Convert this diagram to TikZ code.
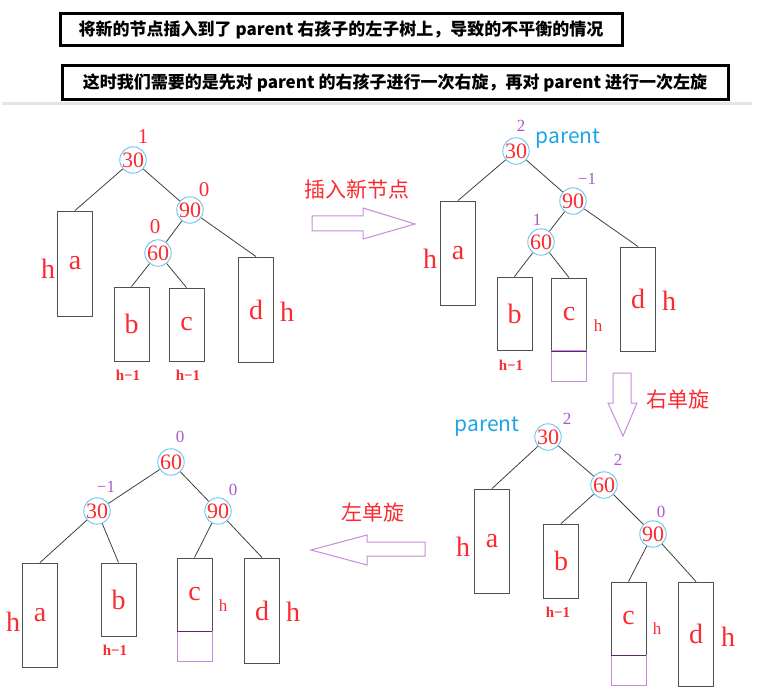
\documentclass[tikz,border=0pt]{standalone}
\usepackage{fontspec}
\setmainfont{Liberation Serif}
\newfontfamily\cjk{Noto Sans CJK SC}
\usepackage{tikz}
\usetikzlibrary{positioning}
\definecolor{avlred}{HTML}{FA2A30}
\definecolor{ringblue}{HTML}{66C6EE}
\definecolor{balpurple}{HTML}{A65BC8}
\definecolor{arrpurple}{HTML}{C88ADB}
\definecolor{parblue}{HTML}{1FA3E6}
\definecolor{boxgray}{HTML}{505050}
\definecolor{seampurple}{HTML}{5A2A6E}

\begin{document}
\begin{tikzpicture}[x=1pt, y=-1pt,
	circ/.style={circle, draw=ringblue, line width=0.9pt, minimum size=26pt, inner sep=0pt, text=avlred, font=\fontsize{22}{22}\selectfont},
	box/.style={draw=boxgray, line width=0.9pt, minimum width=35pt, inner sep=0pt, text=avlred, font=\fontsize{28}{28}\selectfont},
	ext/.style={draw=arrpurple, line width=1pt, minimum width=35pt, minimum height=30pt, inner sep=0pt},
	seam/.style={draw=seampurple, line width=1.4pt},
	edge/.style={draw=black!75, line width=0.8pt},
	bal/.style={text=balpurple, inner sep=0pt, font=\fontsize{17}{17}\selectfont},
	redbal/.style={text=avlred, inner sep=0pt, font=\fontsize{21}{21}\selectfont},
	hbig/.style={text=avlred, inner sep=0pt, font=\fontsize{28}{28}\selectfont},
	hsmall/.style={text=avlred, inner sep=0pt, font=\fontsize{17}{17}\selectfont},
	hmin/.style={text=avlred, inner sep=0pt, font=\fontsize{15}{15}\selectfont\bfseries},
	parlab/.style={text=parblue, inner sep=0pt, font=\cjk\fontsize{21}{21}\selectfont},
	steplab/.style={text=avlred, inner sep=0pt, font=\cjk\fontsize{21}{21}\selectfont},
	banner/.style={draw=black, line width=3pt, inner sep=0pt, font=\cjk\bfseries\fontsize{17}{17}\selectfont},
	arr/.style={draw=arrpurple, line width=1pt, line join=miter}]
	\useasboundingbox (0,0) rectangle (776,692);
	
	% Banners
	\node[banner, minimum width=562pt, minimum height=32pt] (note1) at (341,30) {将新的节点插入到了 parent 右孩子的左子树上，导致的不平衡的情况};
	\node[banner, minimum width=666pt, minimum height=34pt] (note2) at (395,83) {这时我们需要的是先对 parent 的右孩子进行一次右旋，再对 parent 进行一次左旋};
	\draw[black!10, line width=3pt] (2,104) -- (752,104);
	
	% Tree 1: before insertion
	\node[circ] (t1n30) at (133,160) {30};
	\node[circ] (t1n90) at (190,210) {90};
	\node[circ] (t1n60) at (158,253) {60};
	\node[box, minimum height=105pt] (t1a) at (75,263.5) {a};
	\node[box, minimum height=74pt] (t1b) at (131.5,324) {b};
	\node[box, minimum height=73pt] (t1c) at (186.5,324.5) {c};
	\node[box, minimum height=105pt] (t1d) at (256,309.5) {d};
	\draw[edge] (t1n30) -- (t1a.north);
	\draw[edge] (t1n30) -- (t1n90);
	\draw[edge] (t1n90) -- (t1n60);
	\draw[edge] (t1n90) -- (t1d.north);
	\draw[edge] (t1n60) -- (t1b.north);
	\draw[edge] (t1n60) -- (t1c.north);
	\node[redbal] (t1b30) at (143,137) {1};
	\node[redbal] (t1b90) at (204,190) {0};
	\node[redbal] (t1b60) at (155,227) {0};
	\node[hbig] (t1ha) at (48,269) {h};
	\node[hbig] (t1hd) at (287,312) {h};
	\node[hmin] (t1hb) at (128,375) {h−1};
	\node[hmin] (t1hc) at (188,375) {h−1};
	
	% Step 1: insert
	\node[steplab] (ins) at (357,189) {插入新节点};
	\draw[arr] (312,216) -- (363,216) -- (363,208) -- (415,224) -- (363,239) -- (363,231) -- (312,231) -- cycle;
	
	% Tree 2: after insertion
	\node[circ] (t2n30) at (516,151) {30};
	\node[circ] (t2n90) at (573,201) {90};
	\node[circ] (t2n60) at (541,242) {60};
	\node[box, minimum height=104pt] (t2a) at (458,253) {a};
	\node[box, minimum height=73pt] (t2b) at (514.5,313.5) {b};
	\node[box, minimum height=73pt] (t2c) at (569,314.5) {c};
	\node[box, minimum height=104pt] (t2d) at (638,299) {d};
	\node[ext] (t2e) at (569,366) {};
	\draw[seam] (t2c.south west) -- (t2c.south east);
	\draw[edge] (t2n30) -- (t2a.north);
	\draw[edge] (t2n30) -- (t2n90);
	\draw[edge] (t2n90) -- (t2n60);
	\draw[edge] (t2n90) -- (t2d.north);
	\draw[edge] (t2n60) -- (t2b.north);
	\draw[edge] (t2n60) -- (t2c.north);
	\node[bal] (t2b30) at (521,126) {2};
	\node[bal] (t2b90) at (587,179) {−1};
	\node[bal] (t2b60) at (537,220) {1};
	\node[parlab] (t2par) at (568,139) {parent};
	\node[hbig] (t2ha) at (430,259) {h};
	\node[hbig] (t2hd) at (669,301) {h};
	\node[hsmall] (t2hc) at (598,326) {h};
	\node[hmin] (t2hb) at (511,365) {h−1};
	
	% Step 2: right rotation
	\node[steplab] (rot1) at (678,400) {右单旋};
	\draw[arr] (613,373) -- (631,373) -- (631,403) -- (637,403) -- (623,436) -- (608,403) -- (613,403) -- cycle;
	
	% Tree 3: after right rotation
	\node[circ] (t3n30) at (548,437) {30};
	\node[circ] (t3n60) at (604,485) {60};
	\node[circ] (t3n90) at (653,534) {90};
	\node[box, minimum height=104pt] (t3a) at (492,541) {a};
	\node[box, minimum height=74pt] (t3b) at (561,561) {b};
	\node[box, minimum height=73pt] (t3c) at (628.5,618.5) {c};
	\node[box, minimum height=104pt] (t3d) at (696,634) {d};
	\node[ext] (t3e) at (628.5,670) {};
	\draw[seam] (t3c.south west) -- (t3c.south east);
	\draw[edge] (t3n30) -- (t3a.north);
	\draw[edge] (t3n30) -- (t3n60);
	\draw[edge] (t3n60) -- (t3b.north);
	\draw[edge] (t3n60) -- (t3n90);
	\draw[edge] (t3n90) -- (t3c.north);
	\draw[edge] (t3n90) -- (t3d.north);
	\node[bal] (t3b30) at (567,419) {2};
	\node[bal] (t3b60) at (618,460) {2};
	\node[bal] (t3b90) at (661,512) {0};
	\node[parlab] (t3par) at (487,427) {parent};
	\node[hbig] (t3ha) at (463,547) {h};
	\node[hmin] (t3hb) at (558,612) {h−1};
	\node[hsmall] (t3hc) at (657,629) {h};
	\node[hbig] (t3hd) at (728,637) {h};
	
	% Step 3: left rotation
	\node[steplab] (rot2) at (373,513) {左单旋};
	\draw[arr] (425,542) -- (367,542) -- (367,535) -- (311,550) -- (367,565) -- (367,556) -- (425,556) -- cycle;
	
	% Tree 4: balanced
	\node[circ] (t4n60) at (171,462) {60};
	\node[circ] (t4n30) at (97,511) {30};
	\node[circ] (t4n90) at (218,511) {90};
	\node[box, minimum height=104pt] (t4a) at (40,615) {a};
	\node[box, minimum height=73pt] (t4b) at (118.5,599.5) {b};
	\node[box, minimum height=73pt] (t4c) at (194.5,594.5) {c};
	\node[box, minimum height=105pt] (t4d) at (262,610.5) {d};
	\node[ext] (t4e) at (194.5,646) {};
	\draw[seam] (t4c.south west) -- (t4c.south east);
	\draw[edge] (t4n60) -- (t4n30);
	\draw[edge] (t4n60) -- (t4n90);
	\draw[edge] (t4n30) -- (t4a.north);
	\draw[edge] (t4n30) -- (t4b.north);
	\draw[edge] (t4n90) -- (t4c.north);
	\draw[edge] (t4n90) -- (t4d.north);
	\node[bal] (t4b60) at (180,437) {0};
	\node[bal] (t4b30) at (106,487) {−1};
	\node[bal] (t4b90) at (233,490) {0};
	\node[hbig] (t4ha) at (13,622) {h};
	\node[hmin] (t4hb) at (115,650) {h−1};
	\node[hsmall] (t4hc) at (223,606) {h};
	\node[hbig] (t4hd) at (293,612) {h};
\end{tikzpicture}
\end{document}
